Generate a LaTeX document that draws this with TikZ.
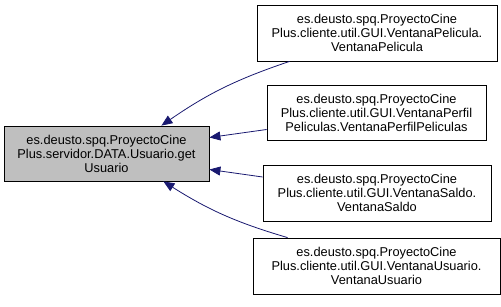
\documentclass[tikz,border=0pt]{standalone}
\usepackage{fontspec}
\setmainfont{Liberation Sans}
\usetikzlibrary{arrows.meta}

\definecolor{edgeblue}{HTML}{191970}
\definecolor{hlgray}{HTML}{BFBFBF}

\tikzset{
  cls/.style = {draw=black, line width=0.8pt, fill=white, align=center,
                inner sep=0pt, font=\fontsize{12.8}{14}\selectfont},
  dep/.style = {draw=edgeblue, line width=0.8pt,
                -{Triangle[length=11pt, width=9pt]}}
}

\begin{document}
\begin{tikzpicture}[x=1pt, y=-1pt]
\useasboundingbox (0,0) rectangle (501,307);
% the member and the classes that call it
\node[cls, fill=hlgray, minimum width=205pt, minimum height=55pt] (main) at (106.5,153.5)
  {es.deusto.spq.ProyectoCine\\Plus.servidor.DATA.Usuario.get\\Usuario};
\node[cls, minimum width=240pt, minimum height=56pt] (v1) at (377,33)
  {es.deusto.spq.ProyectoCine\\Plus.cliente.util.GUI.VentanaPelicula.\\VentanaPelicula};
\node[cls, minimum width=219pt, minimum height=55pt] (v2) at (376.5,112.5)
  {es.deusto.spq.ProyectoCine\\Plus.cliente.util.GUI.VentanaPerfil\\Peliculas.VentanaPerfilPeliculas};
\node[cls, minimum width=228pt, minimum height=56pt] (v3) at (377,193)
  {es.deusto.spq.ProyectoCine\\Plus.cliente.util.GUI.VentanaSaldo.\\VentanaSaldo};
\node[cls, minimum width=247pt, minimum height=56pt] (v4) at (376.5,266)
  {es.deusto.spq.ProyectoCine\\Plus.cliente.util.GUI.VentanaUsuario.\\VentanaUsuario};

\draw[dep] ([xshift=33pt]v1.south west) to[bend right=8] ([xshift=-48pt]main.north east);
\draw[dep] ([yshift=-17pt]v2.west) -- ([yshift=16pt]main.east);
\draw[dep] ([yshift=16pt]v3.west) -- ([yshift=-16pt]main.east);
\draw[dep] ([xshift=35pt]v4.north west) to[bend left=8] ([xshift=-46pt]main.south east);
\end{tikzpicture}
\end{document}
